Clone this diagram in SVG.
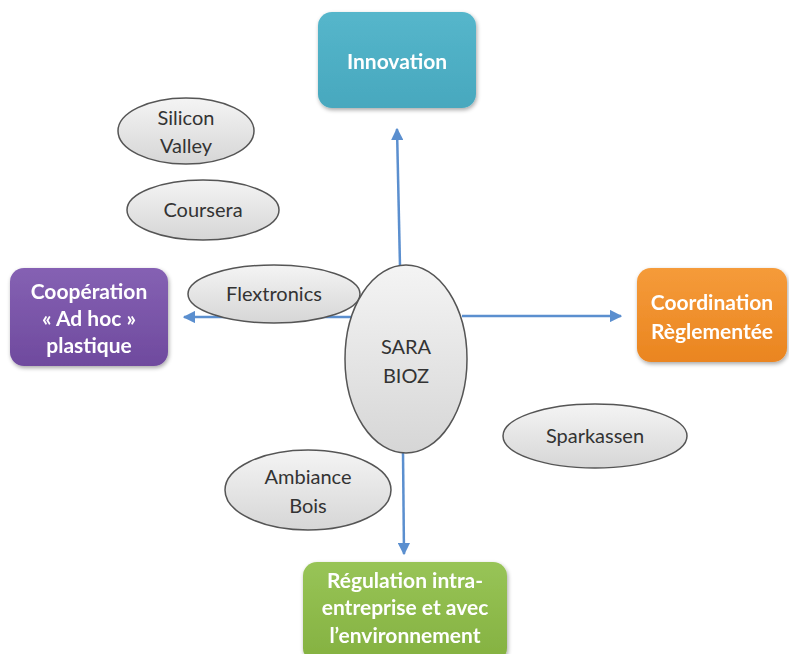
<svg xmlns="http://www.w3.org/2000/svg" width="789" height="654" viewBox="0 0 789 654">
  <defs>
    <linearGradient id="gEll" x1="0" y1="0" x2="0" y2="1">
      <stop offset="0" stop-color="#f4f4f4"/>
      <stop offset="1" stop-color="#d6d6d6"/>
    </linearGradient>
    <linearGradient id="gBlue" x1="0" y1="0" x2="0" y2="1">
      <stop offset="0" stop-color="#55b6cb"/>
      <stop offset="1" stop-color="#48a8be"/>
    </linearGradient>
    <linearGradient id="gPurple" x1="0" y1="0" x2="0" y2="1">
      <stop offset="0" stop-color="#8561b3"/>
      <stop offset="1" stop-color="#6f4a9e"/>
    </linearGradient>
    <linearGradient id="gOrange" x1="0" y1="0" x2="0" y2="1">
      <stop offset="0" stop-color="#f59b3a"/>
      <stop offset="1" stop-color="#ea8520"/>
    </linearGradient>
    <linearGradient id="gGreen" x1="0" y1="0" x2="0" y2="1">
      <stop offset="0" stop-color="#98c457"/>
      <stop offset="1" stop-color="#84b140"/>
    </linearGradient>
    <filter id="shadow" x="-10%" y="-10%" width="125%" height="130%">
      <feGaussianBlur in="SourceAlpha" stdDeviation="2"/>
      <feOffset dx="1" dy="2" result="b"/>
      <feComponentTransfer><feFuncA type="linear" slope="0.35"/></feComponentTransfer>
      <feMerge><feMergeNode/><feMergeNode in="SourceGraphic"/></feMerge>
    </filter>
    <marker id="arrow" viewBox="0 0 10 10" refX="9" refY="5" markerWidth="5" markerHeight="5" orient="auto-start-reverse">
      <path d="M0,0 L10,5 L0,10 z" fill="#5b8fcf"/>
    </marker>
  </defs>
  <style>
    .ell { fill: url(#gEll); stroke: #555; stroke-width: 1.5; }
    .etxt { font-family: Lato, "Open Sans", sans-serif; font-size: 20px; fill: #333; text-anchor: middle; }
    .btxt { font-family: Lato, "Open Sans", sans-serif; font-size: 21px; font-weight: bold; fill: #fff; text-anchor: middle; }
    .conn { stroke: #5b8fcf; stroke-width: 2.5; fill: none; marker-end: url(#arrow); }
  </style>
  <rect width="789" height="654" fill="#fff"/>

  <!-- connectors from the central ellipse -->
  <g id="connectors">
    <line class="conn" x1="400" y1="266" x2="397" y2="129"/>
    <line class="conn" x1="462" y1="316" x2="621" y2="316"/>
    <line class="conn" x1="352" y1="317" x2="184" y2="317"/>
    <line class="conn" x1="403" y1="452" x2="404" y2="554"/>
  </g>

  <g id="innovation" filter="url(#shadow)">
    <rect x="318" y="12" width="158" height="96" rx="14" fill="url(#gBlue)"/>
    <text class="btxt" x="397" y="69">Innovation</text>
  </g>

  <g id="cooperation" filter="url(#shadow)">
    <rect x="10" y="268" width="158" height="98" rx="14" fill="url(#gPurple)"/>
    <text class="btxt" x="89" y="299">Coopération</text>
    <text class="btxt" x="89" y="326">« Ad hoc »</text>
    <text class="btxt" x="89" y="353">plastique</text>
  </g>

  <g id="coordination" filter="url(#shadow)">
    <rect x="637" y="268" width="150" height="94" rx="14" fill="url(#gOrange)"/>
    <text class="btxt" x="712" y="310">Coordination</text>
    <text class="btxt" x="712" y="339">Règlementée</text>
  </g>

  <g id="regulation" filter="url(#shadow)">
    <rect x="303" y="562" width="204" height="100" rx="14" fill="url(#gGreen)"/>
    <text class="btxt" x="405" y="588">Régulation intra-</text>
    <text class="btxt" x="405" y="615">entreprise et avec</text>
    <text class="btxt" x="405" y="643">l’environnement</text>
  </g>

  <g id="silicon-valley">
    <ellipse class="ell" cx="186" cy="131" rx="68" ry="33"/>
    <text class="etxt" x="186" y="125">Silicon</text>
    <text class="etxt" x="186" y="153">Valley</text>
  </g>

  <g id="coursera">
    <ellipse class="ell" cx="203" cy="210" rx="76" ry="30"/>
    <text class="etxt" x="203" y="217">Coursera</text>
  </g>

  <g id="flextronics">
    <ellipse class="ell" cx="274" cy="294" rx="86" ry="29"/>
    <text class="etxt" x="274" y="301">Flextronics</text>
  </g>

  <g id="sara-bioz">
    <ellipse class="ell" cx="406" cy="359" rx="61" ry="94"/>
    <text class="etxt" x="406" y="354">SARA</text>
    <text class="etxt" x="406" y="383">BIOZ</text>
  </g>

  <g id="sparkassen">
    <ellipse class="ell" cx="595" cy="436" rx="92" ry="32"/>
    <text class="etxt" x="595" y="443">Sparkassen</text>
  </g>

  <g id="ambiance-bois">
    <ellipse class="ell" cx="308" cy="490" rx="83" ry="40"/>
    <text class="etxt" x="308" y="484">Ambiance</text>
    <text class="etxt" x="308" y="513">Bois</text>
  </g>
</svg>
